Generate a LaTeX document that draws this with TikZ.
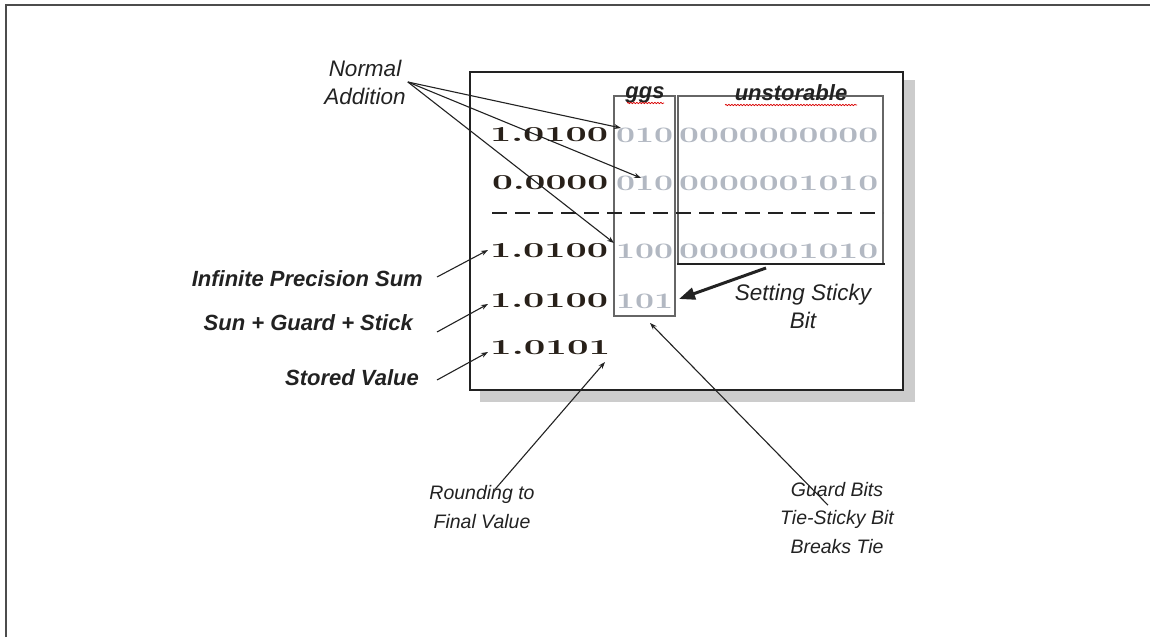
\documentclass[tikz,border=0pt]{standalone}
\usepackage{fontspec}
\usetikzlibrary{arrows.meta,decorations.pathmorphing}
\newfontfamily\lab{Liberation Sans}
\definecolor{ink}{RGB}{34,34,34}
\definecolor{digdark}{RGB}{40,32,25}
\definecolor{diglight}{RGB}{178,184,194}
\newcommand\bdig[2]{\resizebox{#1pt}{14pt}{\color{digdark}\bfseries\oldstylenums{#2}}}
\newcommand\gdig[2]{\resizebox{#1pt}{14.5pt}{\color{diglight}\bfseries\oldstylenums{#2}}}
\begin{document}
\begin{tikzpicture}[x=1pt,y=-1pt,
  lbl/.style={font=\lab\itshape\fontsize{22.5}{28}\selectfont, text=ink, align=center, inner sep=0},
  slbl/.style={font=\lab\itshape\fontsize{19.5}{28.5}\selectfont, text=ink, align=center, inner sep=0},
  blbl/.style={font=\lab\bfseries\itshape\fontsize{22}{26}\selectfont, text=ink, inner sep=0},
  hlbl/.style={font=\lab\bfseries\itshape\fontsize{22}{26}\selectfont, text=ink, inner sep=0, anchor=base},
  conn/.style={draw=ink, line width=1.1pt, -{Stealth[length=7pt,width=5pt]}},
  thick conn/.style={draw=ink, line width=3pt, -{Triangle[length=16pt,width=12pt]}},
  dg/.style={inner sep=0, anchor=south west},
  wavy/.style={draw=red!85!black, line width=0.7pt, decorate, decoration={snake, amplitude=0.7pt, segment length=3pt}}
]
\useasboundingbox (0,0) rectangle (1150,637);
% outer frame
\draw[line width=2pt, draw=black!70] (6,637) -- (6,5) -- (1150,5);
% main box with shadow
\fill[black!20] (480,80) rectangle (915,402);
\filldraw[fill=white, draw=ink, line width=2.6pt] (470,72) rectangle (903,390);
% ggs and unstorable boxes
\draw[black!60, line width=1.3pt] (614,96) rectangle (675,316);
\draw[black!60, line width=1.3pt] (678,263) -- (678,96) -- (883,96) -- (883,263);
\draw[ink, line width=2.8pt] (677,264) -- (885,264);
% headers
\node[hlbl] (ggs) at (645,98) {ggs};
\node[hlbl] (uns) at (791,100) {unstorable};
\draw[wavy] (627,103) -- (664,103);
\draw[wavy] (725,105) -- (857,105);
% dashed separator
\draw[ink, line width=2.6pt, dash pattern=on 15pt off 8pt] (492,213) -- (883,213);
% rows
\node[dg] (r1a) at (490,142) {\bdig{118}{1.0100}};
\node[dg] (r1b) at (616,142.5) {\gdig{57}{010}};
\node[dg] (r1c) at (679,142.5) {\gdig{199}{0000000000}};
\node[dg] (r2a) at (492,190) {\bdig{116}{0.0000}};
\node[dg] (r2b) at (616,190.5) {\gdig{57}{010}};
\node[dg] (r2c) at (679,190.5) {\gdig{199}{0000001010}};
\node[dg] (r3a) at (490,258) {\bdig{118}{1.0100}};
\node[dg] (r3b) at (616,258.5) {\gdig{57}{100}};
\node[dg] (r3c) at (679,258.5) {\gdig{199}{0000001010}};
\node[dg] (r4a) at (490,308) {\bdig{118}{1.0100}};
\node[dg] (r4b) at (616,308.5) {\gdig{57}{101}};
\node[dg] (r5a) at (490,355) {\bdig{120}{1.0101}};
% labels
\node[lbl] (na) at (365,82) {Normal\\Addition};
\node[blbl, anchor=east] (ips) at (423,279) {Infinite Precision Sum};
\node[blbl, anchor=east] (sgs) at (413,323) {Sun + Guard + Stick};
\node[blbl, anchor=east] (sv) at (419,378) {Stored Value};
\node[lbl] (ssb) at (803,306) {Setting Sticky\\Bit};
\node[slbl] (rtf) at (482,507) {Rounding to\\Final Value};
\node[slbl] (gb) at (837,518) {Guard Bits\\Tie-Sticky Bit\\Breaks Tie};
% arrow targets
\coordinate (t1) at (621,128);
\coordinate (t2) at (641,178);
\coordinate (t3) at (614,243);
\coordinate (a1) at (488,250);
\coordinate (a2) at (488,304);
\coordinate (a3) at (488,352);
\coordinate (a4) at (605,362);
\coordinate (a5) at (650,323);
\coordinate (s0) at (766,268);
\coordinate (s1) at (679,299);
% connectors
\draw[conn] ([xshift=2pt]na.east) -- (t1);
\draw[conn] ([xshift=2pt]na.east) -- (t2);
\draw[conn] ([xshift=2pt]na.east) -- (t3);
\draw[conn] ([xshift=14pt,yshift=2pt]ips.east) -- (a1);
\draw[conn] ([xshift=24pt,yshift=-9pt]sgs.east) -- (a2);
\draw[conn] ([xshift=18pt,yshift=-2pt]sv.east) -- (a3);
\draw[conn] ([xshift=13pt,yshift=-4pt]rtf.north) -- (a4);
\draw[conn] ([xshift=-9pt,yshift=-23pt]gb.north) -- (a5);
\draw[thick conn] (s0) -- (s1);
\end{tikzpicture}
\end{document}
